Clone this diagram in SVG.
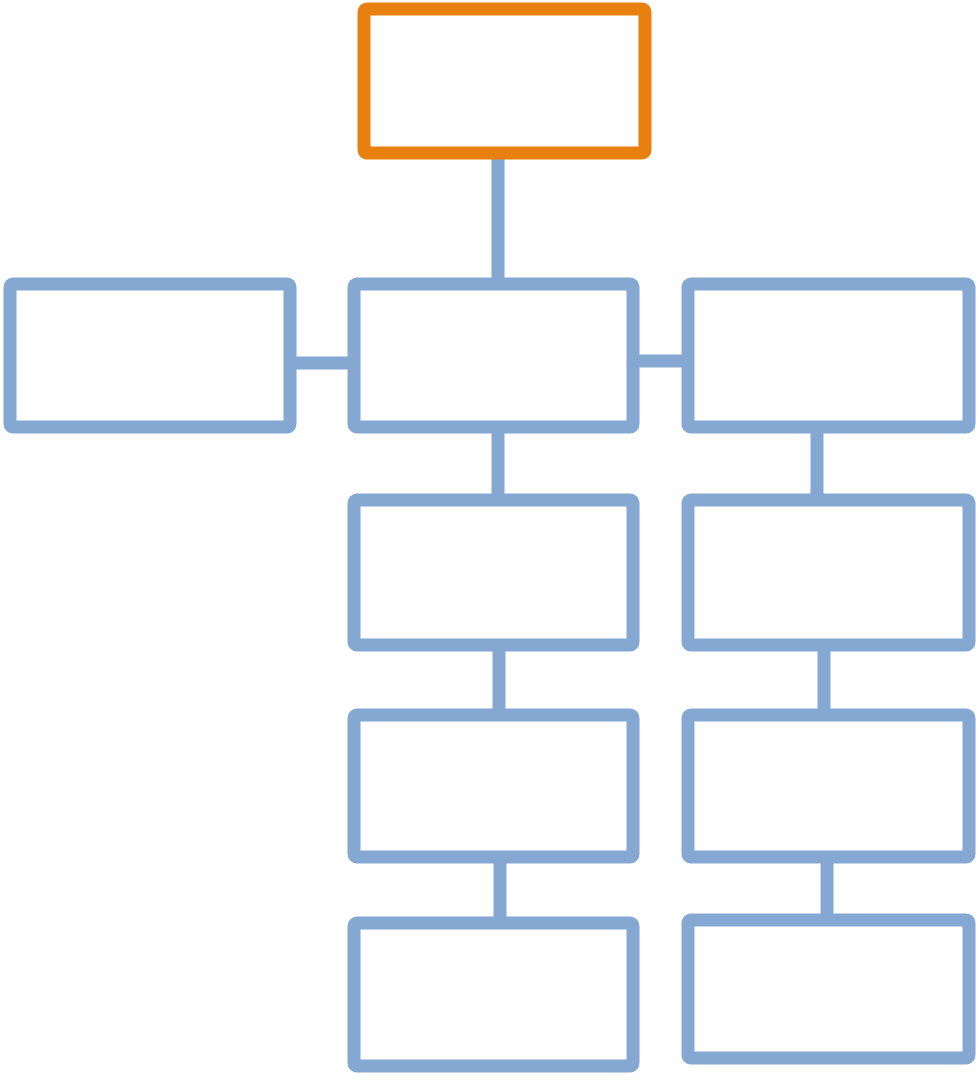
<svg xmlns="http://www.w3.org/2000/svg" width="978" height="1080" viewBox="0 0 978 1080">
<style>
.b{fill:none;stroke:#85A8D3;stroke-width:13;stroke-linejoin:round}
.o{fill:none;stroke:#E8800F;stroke-width:13;stroke-linejoin:round}
.c{stroke:#85A8D3;stroke-width:13;fill:none}
</style>
<rect width="978" height="1080" fill="#fff"/>
<g id="connectors">
<line class="c" x1="498" y1="158" x2="498" y2="280"/>
<line class="c" x1="295" y1="363" x2="349" y2="363"/>
<line class="c" x1="638" y1="361" x2="683" y2="361"/>
<line class="c" x1="498" y1="432" x2="498" y2="495"/>
<line class="c" x1="499" y1="650" x2="499" y2="710"/>
<line class="c" x1="500" y1="862" x2="500" y2="918"/>
<line class="c" x1="817" y1="432" x2="817" y2="495"/>
<line class="c" x1="824" y1="650" x2="824" y2="710"/>
<line class="c" x1="827" y1="862" x2="827" y2="915"/>
</g>
<g id="top"><rect class="o" x="364" y="9" width="281" height="144" rx="3"/></g>
<g id="left"><rect class="b" x="10" y="284" width="280" height="143" rx="3"/></g>
<g id="mid1"><rect class="b" x="354" y="284" width="279" height="143" rx="3"/></g>
<g id="right1"><rect class="b" x="688" y="284" width="281" height="143" rx="3"/></g>
<g id="mid2"><rect class="b" x="354" y="500" width="279" height="145" rx="3"/></g>
<g id="right2"><rect class="b" x="688" y="500" width="281" height="145" rx="3"/></g>
<g id="mid3"><rect class="b" x="354" y="715" width="279" height="142" rx="3"/></g>
<g id="right3"><rect class="b" x="688" y="715" width="281" height="142" rx="3"/></g>
<g id="mid4"><rect class="b" x="354" y="923" width="279" height="143" rx="3"/></g>
<g id="right4"><rect class="b" x="688" y="920" width="281" height="138" rx="3"/></g>
</svg>
